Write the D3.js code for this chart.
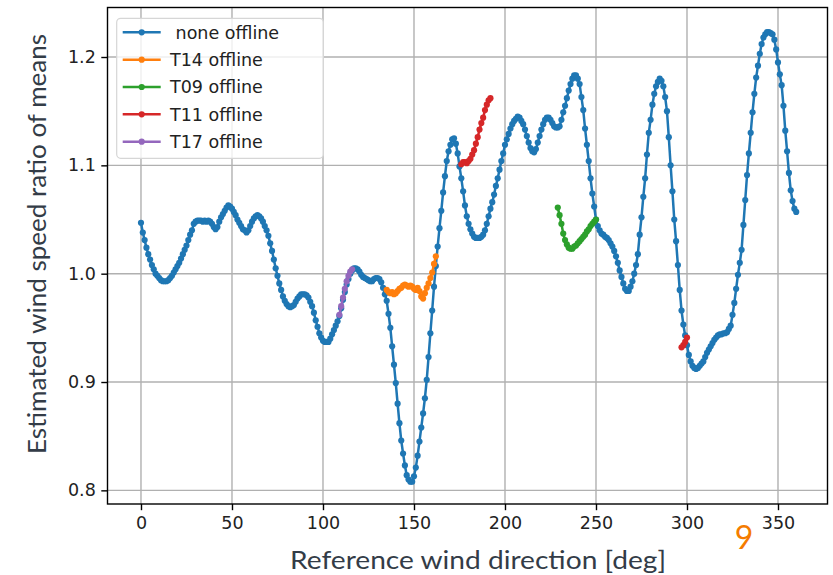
<!DOCTYPE html>
<html>
<head>
<meta charset="utf-8">
<script src="https://cdn.jsdelivr.net/npm/d3@7"></script>
<style>
  html, body { margin: 0; padding: 0; background: #fff; }
  svg { display: block; }
</style>
</head>
<body>
<svg id="chart" width="833" height="575"></svg>
<script>
// ---------------- DATA ----------------
// Reference wind direction (deg), one sample per degree 0..360
const directions = d3.range(0, 361);

// "none offline" series, ratio per degree 0..360
const noneOffline = [
  1.047,1.038,1.031,1.024,1.018,1.013,1.008,1.004,1.000,0.998,
  0.996,0.994,0.993,0.993,0.993,0.994,0.996,0.998,1.001,1.004,
  1.007,1.010,1.014,1.018,1.022,1.026,1.031,1.036,1.040,1.046,
  1.048,1.049,1.049,1.049,1.048,1.049,1.048,1.049,1.048,1.046,
  1.043,1.041,1.043,1.048,1.052,1.055,1.058,1.061,1.063,1.062,
  1.060,1.057,1.054,1.050,1.047,1.044,1.041,1.040,1.038,1.040,
  1.044,1.048,1.051,1.053,1.054,1.053,1.051,1.048,1.044,1.040,
  1.035,1.028,1.021,1.013,1.005,0.998,0.991,0.985,0.979,0.975,
  0.972,0.970,0.969,0.970,0.971,0.974,0.977,0.979,0.981,0.981,
  0.981,0.980,0.978,0.974,0.970,0.964,0.957,0.951,0.945,0.941,
  0.938,0.937,0.937,0.937,0.940,0.944,0.948,0.952,0.956,0.961,
  0.968,0.976,0.983,0.990,0.995,1.000,1.003,1.005,1.005,1.004,
  1.002,0.999,0.997,0.996,0.995,0.994,0.993,0.993,0.995,0.996,
  0.996,0.995,0.992,0.987,0.981,0.975,0.963,0.950,0.933,0.916,
  0.899,0.880,0.862,0.846,0.834,0.823,0.814,0.810,0.808,0.808,
  0.813,0.821,0.832,0.845,0.858,0.871,0.885,0.902,0.923,0.945,
  0.966,0.988,1.007,1.025,1.042,1.058,1.075,1.090,1.104,1.113,
  1.119,1.124,1.125,1.120,1.111,1.099,1.088,1.076,1.063,1.053,
  1.046,1.041,1.037,1.034,1.033,1.033,1.033,1.034,1.036,1.040,
  1.046,1.053,1.060,1.066,1.073,1.081,1.088,1.096,1.104,1.111,
  1.119,1.124,1.129,1.134,1.138,1.141,1.143,1.145,1.144,1.141,
  1.138,1.133,1.127,1.121,1.116,1.113,1.112,1.115,1.121,1.127,
  1.133,1.138,1.142,1.144,1.144,1.142,1.139,1.136,1.135,1.135,
  1.136,1.142,1.149,1.155,1.162,1.169,1.175,1.180,1.183,1.183,
  1.180,1.175,1.163,1.151,1.134,1.119,1.104,1.088,1.074,1.062,
  1.050,1.044,1.040,1.037,1.036,1.034,1.033,1.031,1.028,1.025,
  1.021,1.016,1.010,1.003,0.997,0.991,0.986,0.984,0.984,0.988,
  0.993,1.000,1.008,1.018,1.036,1.052,1.071,1.088,1.110,1.130,
  1.142,1.156,1.166,1.173,1.177,1.180,1.178,1.173,1.163,1.150,
  1.126,1.100,1.076,1.050,1.030,1.008,0.985,0.966,0.953,0.943,
  0.934,0.925,0.919,0.915,0.913,0.912,0.913,0.915,0.917,0.919,
  0.923,0.927,0.930,0.933,0.936,0.939,0.941,0.943,0.944,0.944,
  0.945,0.945,0.946,0.949,0.952,0.962,0.973,0.986,0.999,1.010,
  1.022,1.045,1.068,1.091,1.111,1.130,1.149,1.166,1.181,1.192,
  1.203,1.212,1.218,1.221,1.223,1.223,1.222,1.221,1.216,1.207,
  1.195,1.184,1.174,1.155,1.132,1.113,1.093,1.077,1.067,1.060,
  1.057
];

// T14 offline: directions 135..162
const t14Dirs = d3.range(135, 163);
const t14Offline = [
  0.985,0.983,0.982,0.983,0.981,0.982,0.984,0.986,0.987,0.989,
  0.990,0.989,0.988,0.989,0.988,0.986,0.985,0.987,0.984,0.979,
  0.977,0.982,0.987,0.991,0.996,1.001,1.009,1.016
];

// T09 offline: directions 229..250
const t09Dirs = d3.range(229, 251);
const t09Offline = [
  1.061,1.054,1.046,1.037,1.031,1.027,1.024,1.023,1.023,1.025,
  1.026,1.028,1.030,1.032,1.034,1.036,1.039,1.041,1.044,1.046,
  1.048,1.050
];

// T11 offline: two separate stretches, 176..192 and 297..300
const t11DirsA = d3.range(176, 193);
const t11OfflineA = [
  1.101,1.103,1.103,1.102,1.104,1.106,1.110,1.114,1.120,1.126,
  1.133,1.139,1.144,1.151,1.156,1.160,1.162
];
const t11DirsB = [297, 298, 299, 300];
const t11OfflineB = [0.932, 0.934, 0.937, 0.941];

// T17 offline: directions 109..116
const t17Dirs = d3.range(109, 117);
const t17Offline = [0.962,0.970,0.978,0.986,0.993,0.998,1.002,1.004];

const xTicks = [0, 50, 100, 150, 200, 250, 300, 350];
const yTicks = [0.8, 0.9, 1.0, 1.1, 1.2];
const seriesNames = [" none offline", "T14 offline", "T09 offline", "T11 offline", "T17 offline"];
const seriesColors = ["#1f77b4", "#ff7f0e", "#2ca02c", "#d62728", "#9467bd"];

// ---------------- LAYOUT ----------------
const L = 107.5, R = 827.5, T = 7.5, B = 504;
const svg = d3.select("#chart");

const x = d3.scaleLinear().domain([-18.4, 377.2]).range([L, R]);
const y = d3.scaleLinear().domain([0.7874, 1.2457]).range([B, T]);

const tickFont = "'DejaVu Sans', sans-serif";

// grid
const grid = svg.append("g");
grid.selectAll("line.vx").data(xTicks).enter().append("line")
  .attr("x1", d => x(d)).attr("x2", d => x(d))
  .attr("y1", T).attr("y2", B)
  .attr("stroke", "#b0b0b0").attr("stroke-width", 1.4);
grid.selectAll("line.hy").data(yTicks).enter().append("line")
  .attr("y1", d => y(d)).attr("y2", d => y(d))
  .attr("x1", L).attr("x2", R)
  .attr("stroke", "#b0b0b0").attr("stroke-width", 1.4);

// axes via d3
const xAxis = d3.axisBottom(x).tickValues(xTicks).tickFormat(d3.format("d"))
  .tickSize(6.2).tickPadding(6.5);
const yAxis = d3.axisLeft(y).tickValues(yTicks).tickFormat(d3.format(".1f"))
  .tickSize(6.2).tickPadding(5.5);

const gx = svg.append("g").attr("transform", `translate(0,${B})`).call(xAxis);
const gy = svg.append("g").attr("transform", `translate(${L},0)`).call(yAxis);
[gx, gy].forEach(g => {
  g.select(".domain").remove();
  g.selectAll(".tick line").attr("stroke", "#000").attr("stroke-width", 1.4);
  g.selectAll(".tick text").attr("fill", "#222")
    .style("font-family", tickFont).style("font-size", "17.5px");
});

// data lines
function drawSeries(dirs, vals, color) {
  const pts = dirs.map((d, i) => [d, vals[i]]);
  const line = d3.line().x(p => x(p[0])).y(p => y(p[1]));
  const g = svg.append("g");
  g.append("path").datum(pts).attr("d", line)
    .attr("fill", "none").attr("stroke", color).attr("stroke-width", 2.5)
    .attr("stroke-linejoin", "round").attr("stroke-linecap", "round");
  g.selectAll("circle").data(pts).enter().append("circle")
    .attr("cx", p => x(p[0])).attr("cy", p => y(p[1])).attr("r", 3.1)
    .attr("fill", color);
}
drawSeries(directions, noneOffline, seriesColors[0]);
drawSeries(t14Dirs, t14Offline, seriesColors[1]);
drawSeries(t09Dirs, t09Offline, seriesColors[2]);
drawSeries(t11DirsA, t11OfflineA, seriesColors[3]);
drawSeries(t11DirsB, t11OfflineB, seriesColors[3]);
drawSeries(t17Dirs, t17Offline, seriesColors[4]);

// frame
svg.append("rect").attr("x", L).attr("y", T).attr("width", R - L).attr("height", B - T)
  .attr("fill", "none").attr("stroke", "#000").attr("stroke-width", 1.4);

// legend
const lg = svg.append("g");
lg.append("rect").attr("x", 116.7).attr("y", 18.3).attr("width", 206.6).attr("height", 140)
  .attr("rx", 4).attr("fill", "#fff").attr("fill-opacity", 0.8)
  .attr("stroke", "#d6d6d6").attr("stroke-width", 1.2);
seriesNames.forEach((name, i) => {
  const yy = 32.3 + i * 27.35;
  lg.append("line").attr("x1", 122.7).attr("x2", 160.7).attr("y1", yy).attr("y2", yy)
    .attr("stroke", seriesColors[i]).attr("stroke-width", 2.5);
  lg.append("circle").attr("cx", 141.7).attr("cy", yy).attr("r", 3.1).attr("fill", seriesColors[i]);
  lg.append("text").attr("x", 170).attr("y", yy + 6.3)
    .attr("fill", "#222").style("font-family", tickFont).style("font-size", "17.5px")
    .attr("xml:space", "preserve").text(name);
});

// axis labels
svg.append("text").attr("x", 478).attr("y", 569)
  .attr("text-anchor", "middle").attr("fill", "#333c47")
  .style("font-family", "Lato, 'Noto Sans', sans-serif").style("font-size", "25px")
  .attr("textLength", 376).attr("lengthAdjust", "spacingAndGlyphs")
  .text("Reference wind direction [deg]");

svg.append("text").attr("transform", "translate(46,244) rotate(-90)")
  .attr("text-anchor", "middle").attr("fill", "#333c47")
  .style("font-family", "Lato, 'Noto Sans', sans-serif").style("font-size", "25px")
  .attr("textLength", 420).attr("lengthAdjust", "spacingAndGlyphs")
  .text("Estimated wind speed ratio of means");

// stray orange annotation
svg.append("text").attr("x", 744).attr("y", 549)
  .attr("text-anchor", "middle").attr("fill", "#f57c00")
  .style("font-family", "Lato, 'Noto Sans', sans-serif").style("font-size", "32px")
  .text("9");
</script>
</body>
</html>
